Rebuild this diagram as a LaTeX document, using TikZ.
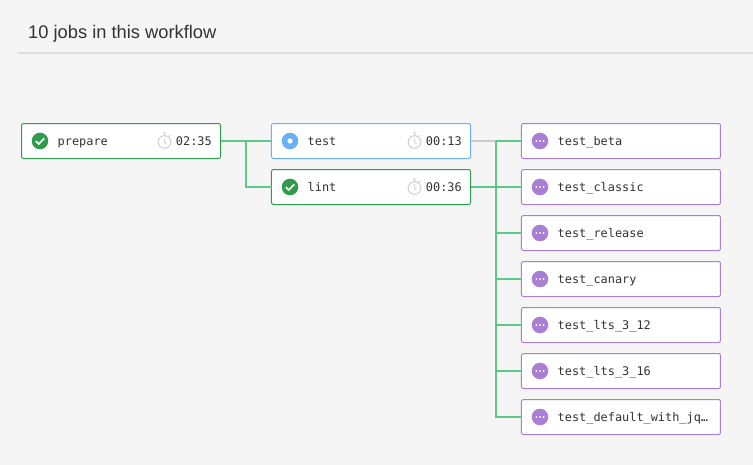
\documentclass[tikz,border=0pt]{standalone}
\usepackage{fontspec}
\setmainfont{Liberation Sans}
\setmonofont{DejaVu Sans Mono}
\usetikzlibrary{matrix}
\definecolor{pagebg}{HTML}{F5F5F5}
\definecolor{ruleline}{HTML}{DDDDDD}
\definecolor{inktext}{HTML}{333333}
\definecolor{okgreen}{HTML}{2E9C4A}
\definecolor{runblue}{HTML}{6AB0F5}
\definecolor{waitpurple}{HTML}{A97FD6}
\definecolor{linkgreen}{HTML}{5CC98A}
\definecolor{linkgrey}{HTML}{CCCCCC}
\definecolor{watchgrey}{HTML}{D2D2D2}
\tikzset{
  jobbox/.style={draw, fill=white, line width=1pt, rounded corners=2pt, outer sep=0pt,
    inner sep=0pt, minimum width=199pt, minimum height=35pt},
  okbox/.style={jobbox, draw=okgreen},
  runbox/.style={jobbox, draw=runblue},
  waitbox/.style={jobbox, draw=waitpurple},
  joblabel/.style={anchor=west, inner sep=0pt, text=inktext, text height=10pt, text depth=1pt,
    font=\ttfamily\fontsize{11.9}{14}\selectfont},
  jobtime/.style={joblabel, anchor=east},
  jobicon/.style={circle, inner sep=0pt, minimum size=16.6pt},
  link/.style={line width=2pt, linkgreen},
  tick/.pic={\draw[white, line width=1.7pt] (-4.2,0.2)--(-1.2,3)--(4.2,-2.6);},
  spot/.pic={\fill[white] (0,0) circle (2.6);},
  dots/.pic={\foreach \x in {-3.6,0,3.6} \fill[white] (\x,0) circle (1);},
  watch/.pic={
    \draw[watchgrey, line width=1.1pt] (0,1) circle (6.3);
    \draw[watchgrey, line width=1pt] (0,-5.2)--(0,-7.8) (-1.6,-8)--(1.6,-8) (4.6,-4.6)--(5.8,-5.8);
    \draw[watchgrey, line width=1pt] (0,-2.6)--(0,1)--(2,3);
  }
}
\begin{document}
\begin{tikzpicture}[x=1pt, y=-1pt]
\useasboundingbox (0,0) rectangle (753,465);
\fill[pagebg] (0,0) rectangle (753,465);
\node[anchor=base west, inner sep=0pt, text=inktext, font=\fontsize{18.3}{22}\selectfont] (title) at (28,38.5) {10 jobs in this workflow};
\coordinate (ruleleft) at (18,53.5);
\coordinate (ruleright) at (753,53.5);
\draw[ruleline, line width=2pt] (ruleleft)--(ruleright);
\matrix[column sep=50pt, row sep=10pt, inner sep=0pt, outer sep=0pt, anchor=north west] at (21,123)
{
\node(prepare)[okbox]{}; & \node(test)[runbox]{}; & \node(beta)[waitbox]{}; \\
& \node(lint)[okbox]{}; & \node(classic)[waitbox]{}; \\
& & \node(release)[waitbox]{}; \\
& & \node(canary)[waitbox]{}; \\
& & \node(ltsa)[waitbox]{}; \\
& & \node(ltsb)[waitbox]{}; \\
& & \node(jq)[waitbox]{}; \\
};
% links
\coordinate (fork) at (246,141);
\coordinate (bus) at (496,141);
\draw[link] (prepare.east)--(test.west);
\draw[link] (fork) |- (lint.west);
\draw[line width=2pt, linkgrey] (test.east)--(bus);
\draw[link] (bus)--(beta.west);
\draw[link] (lint.east)--(classic.west);
\foreach \n in {release,canary,ltsa,ltsb,jq}
  \draw[link] (bus) |- (\n.west);
% icons
\foreach \n in {prepare,lint} {
  \node[jobicon, fill=okgreen] (\n icon) at ([xshift=18.5pt]\n.west) {};
  \pic at (\n icon) {tick};
}
\node[jobicon, fill=runblue] (test icon) at ([xshift=18.5pt]test.west) {};
\pic at (test icon) {spot};
\foreach \n in {beta,classic,release,canary,ltsa,ltsb,jq} {
  \node[jobicon, fill=waitpurple] (\n icon) at ([xshift=18.5pt]\n.west) {};
  \pic at (\n icon) {dots};
}
% texts
\foreach \n/\l in {prepare/prepare,test/test,lint/lint,beta/test\_beta,classic/test\_classic,
  release/test\_release,canary/test\_canary,ltsa/test\_lts\_3\_12,ltsb/test\_lts\_3\_16,
  jq/test\_default\_with\_jq…}
  \node[joblabel] (\n label) at ([xshift=36pt]\n.west) {\l};
\foreach \n/\d in {prepare/02:35,test/00:13,lint/00:36} {
  \node[jobtime] (\n time) at ([xshift=-8.5pt]\n.east) {\d};
  \coordinate (\n watch) at ([xshift=-56pt]\n.east);
  \pic at (\n watch) {watch};
}
\end{tikzpicture}
\end{document}
